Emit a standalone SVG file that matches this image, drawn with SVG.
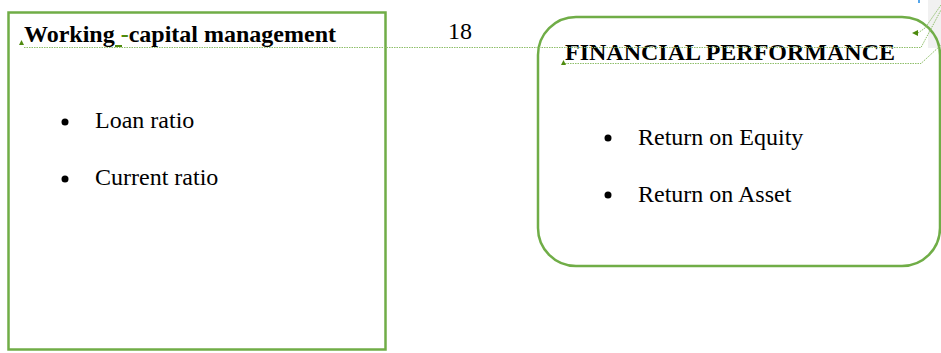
<svg xmlns="http://www.w3.org/2000/svg" width="941" height="353" viewBox="0 0 941 353">
<style>
.box{fill:none;stroke:#70ad47;stroke-width:2.5}
.t{font-family:"Liberation Serif","Times New Roman",serif;font-size:24px;fill:#000}
.b{font-weight:bold}
.dot{fill:none;stroke:#8fbf6a;stroke-width:1;stroke-dasharray:1.5 1}
.mk{fill:#4e8a0e}
</style>
<rect x="0" y="0" width="941" height="353" fill="#fff"/>
<rect x="928" y="0" width="13" height="48" fill="#f1f1f1"/>
<line x1="919" y1="0" x2="919" y2="3" stroke="#1e88e5" stroke-width="1.5"/>
<g id="working-capital">
<rect class="box" x="8.5" y="12.5" width="377" height="337"/>
<text class="t b" x="24" y="42">Working <tspan fill="#4e8a0e">-</tspan>capital management</text>
<rect class="mk" x="115" y="45" width="7" height="2"/>
<circle cx="65" cy="122" r="3.5"/>
<text class="t" x="95" y="128">Loan ratio</text>
<circle cx="65" cy="179" r="3.5"/>
<text class="t" x="95" y="185">Current ratio</text>
</g>
<text id="page-number" class="t" x="448" y="39">18</text>
<g id="financial-performance">
<rect class="box" x="538" y="17" width="402" height="249" rx="38" ry="38" stroke-width="2.2"/>
<text class="t b" x="565" y="60">FINANCIAL PERFORMANCE</text>
<circle cx="608" cy="138" r="3.5"/>
<text class="t" x="638" y="145">Return on Equity</text>
<circle cx="608" cy="195" r="3.5"/>
<text class="t" x="638" y="202">Return on Asset</text>
</g>
<g id="connectors">
<polyline class="dot" points="24,47.5 921,47.5 941,10"/>
<polyline class="dot" points="565,63.5 921,63.5 941,45"/>
<polyline class="dot" points="918,33 925,28 941,5"/>
<polygon class="mk" points="19,45 21.5,40 24,45"/>
<polygon class="mk" points="561,65 563.5,60 566,65"/>
<polygon class="mk" points="912,33 918,30 918,36"/>
</g>
</svg>
